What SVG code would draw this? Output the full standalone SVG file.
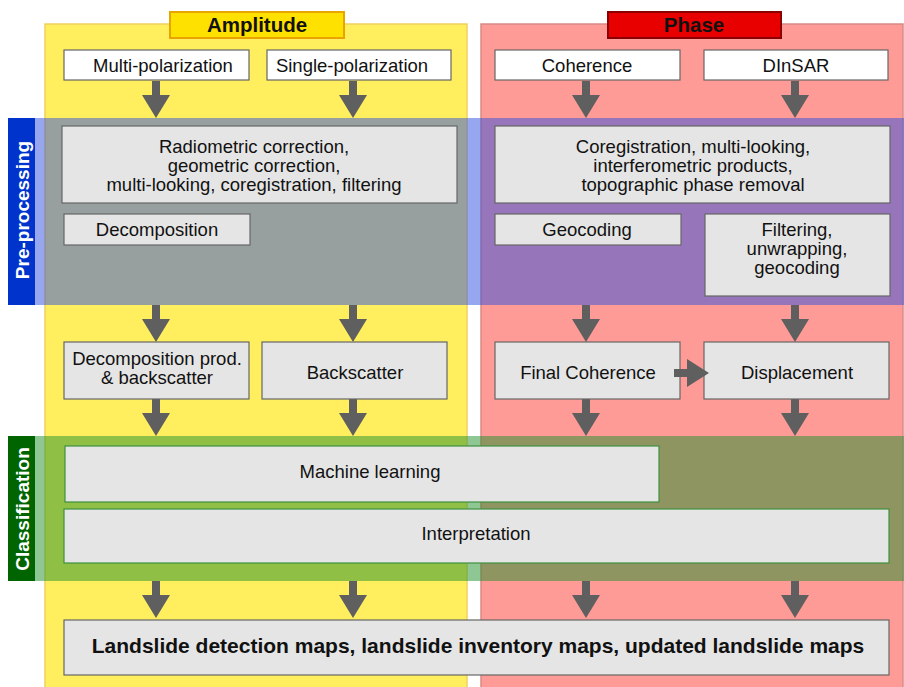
<svg xmlns="http://www.w3.org/2000/svg" width="904" height="687" viewBox="0 0 904 687">
<defs>
<style>
.t{font-family:"Liberation Sans",Arial,sans-serif;font-size:18.5px;fill:#111;text-anchor:middle}
.b{font-weight:bold}
.wb{fill:#fff;stroke:#666;stroke-width:1.2}
.gb{fill:#e5e5e5;stroke:#666;stroke-width:1.2}
.gg{fill:#e5e5e5;stroke:#3f8f3f;stroke-width:1.2}
.ar{fill:#5f5f5f}
</style>
<polygon id="ad" points="-4,0 4,0 4,14 14,14 0,37 -14,14 -4,14"/>
</defs>
<g id="panels">
<rect x="45" y="24" width="422" height="670" fill="#ffee5e" stroke="#f0d060" stroke-width="1.5"/>
<rect x="481" y="24" width="422" height="670" fill="#ff9b96" stroke="#d88a86" stroke-width="1.5"/>
<rect x="170" y="12" width="174" height="26" fill="#ffe100" stroke="#e8a400" stroke-width="2"/>
<text class="t b" x="257" y="32" style="font-size:20.5px">Amplitude</text>
<rect x="608" y="12" width="173" height="26" fill="#e80000" stroke="#8a0000" stroke-width="2"/>
<text class="t b" x="694" y="32" style="font-size:20.5px">Phase</text>
</g>
<g id="n-multi"><rect class="wb" x="64" y="50" width="185" height="30"/><text class="t" x="163" y="72">Multi-polarization</text></g>
<g id="n-single"><rect class="wb" x="267" y="50" width="184" height="30"/><text class="t" x="352" y="72">Single-polarization</text></g>
<g id="n-coh"><rect class="wb" x="495" y="50" width="185" height="30"/><text class="t" x="587" y="72">Coherence</text></g>
<g id="n-dinsar"><rect class="wb" x="704" y="50" width="184" height="30"/><text class="t" x="796" y="72">DInSAR</text></g>
<g id="connectors">
<use href="#ad" class="ar" x="156" y="81"/>
<use href="#ad" class="ar" x="353" y="81"/>
<use href="#ad" class="ar" x="586" y="81"/>
<use href="#ad" class="ar" x="795" y="81"/>
<use href="#ad" class="ar" x="156" y="305"/>
<use href="#ad" class="ar" x="353" y="305"/>
<use href="#ad" class="ar" x="586" y="305"/>
<use href="#ad" class="ar" x="795" y="305"/>
<use href="#ad" class="ar" x="156" y="399"/>
<use href="#ad" class="ar" x="353" y="399"/>
<use href="#ad" class="ar" x="586" y="399"/>
<use href="#ad" class="ar" x="795" y="399"/>
<use href="#ad" class="ar" x="156" y="581"/>
<use href="#ad" class="ar" x="353" y="581"/>
<use href="#ad" class="ar" x="586" y="581"/>
<use href="#ad" class="ar" x="795" y="581"/>
</g>
<g id="band-pre">
<rect x="35" y="118" width="869" height="187" fill="#3050e0" fill-opacity="0.5"/>
<rect x="8" y="118" width="27" height="187" fill="#0033cc"/>
<text class="t b" transform="translate(29,210) rotate(-90)" style="fill:#fff;font-size:19px">Pre-processing</text>
</g>
<g id="n-radio"><rect class="gb" x="62" y="126" width="395" height="77"/>
<text class="t" x="254" y="153">Radiometric correction,</text>
<text class="t" x="254" y="172">geometric correction,</text>
<text class="t" x="254" y="191">multi-looking, coregistration, filtering</text></g>
<g id="n-decomp"><rect class="gb" x="64" y="214" width="186" height="31"/><text class="t" x="157" y="236">Decomposition</text></g>
<g id="n-coreg"><rect class="gb" x="495" y="126" width="395" height="77"/>
<text class="t" x="693" y="153">Coregistration, multi-looking,</text>
<text class="t" x="693" y="172">interferometric products,</text>
<text class="t" x="693" y="191">topographic phase removal</text></g>
<g id="n-geocod"><rect class="gb" x="495" y="214" width="186" height="31"/><text class="t" x="587" y="236">Geocoding</text></g>
<g id="n-filt"><rect class="gb" x="705" y="214" width="185" height="82"/>
<text class="t" x="797" y="236">Filtering,</text>
<text class="t" x="797" y="255">unwrapping,</text>
<text class="t" x="797" y="274">geocoding</text></g>
<g id="n-dprod"><rect class="gb" x="64" y="342" width="185" height="57"/>
<text class="t" x="157" y="365">Decomposition prod.</text>
<text class="t" x="157" y="384">&amp; backscatter</text></g>
<g id="n-back"><rect class="gb" x="262" y="342" width="185" height="57"/><text class="t" x="355" y="379">Backscatter</text></g>
<g id="n-fcoh"><rect class="gb" x="495" y="342" width="185" height="57"/><text class="t" x="588" y="379">Final Coherence</text></g>
<g id="n-disp"><rect class="gb" x="704" y="342" width="185" height="57"/><text class="t" x="797" y="379">Displacement</text></g>
<g id="connector-h"><polygon class="ar" points="674,369 687,369 687,359 709,373 687,387 687,377 674,377"/></g>
<g id="band-class">
<rect x="35" y="436" width="869" height="145" fill="#20902a" fill-opacity="0.5"/>
<rect x="8" y="436" width="27" height="145" fill="#006400"/>
<text class="t b" transform="translate(29,509) rotate(-90)" style="fill:#fff;font-size:19px">Classification</text>
</g>
<g id="n-ml"><rect class="gg" x="65" y="446" width="594" height="56"/><text class="t" x="370" y="478">Machine learning</text></g>
<g id="n-interp"><rect class="gg" x="64" y="509" width="825" height="54"/><text class="t" x="476" y="540">Interpretation</text></g>
<g id="n-final"><rect class="gb" x="64" y="620" width="825" height="55"/><text class="t b" x="478" y="653" style="font-size:21px">Landslide detection maps, landslide inventory maps, updated landslide maps</text></g>
</svg>
